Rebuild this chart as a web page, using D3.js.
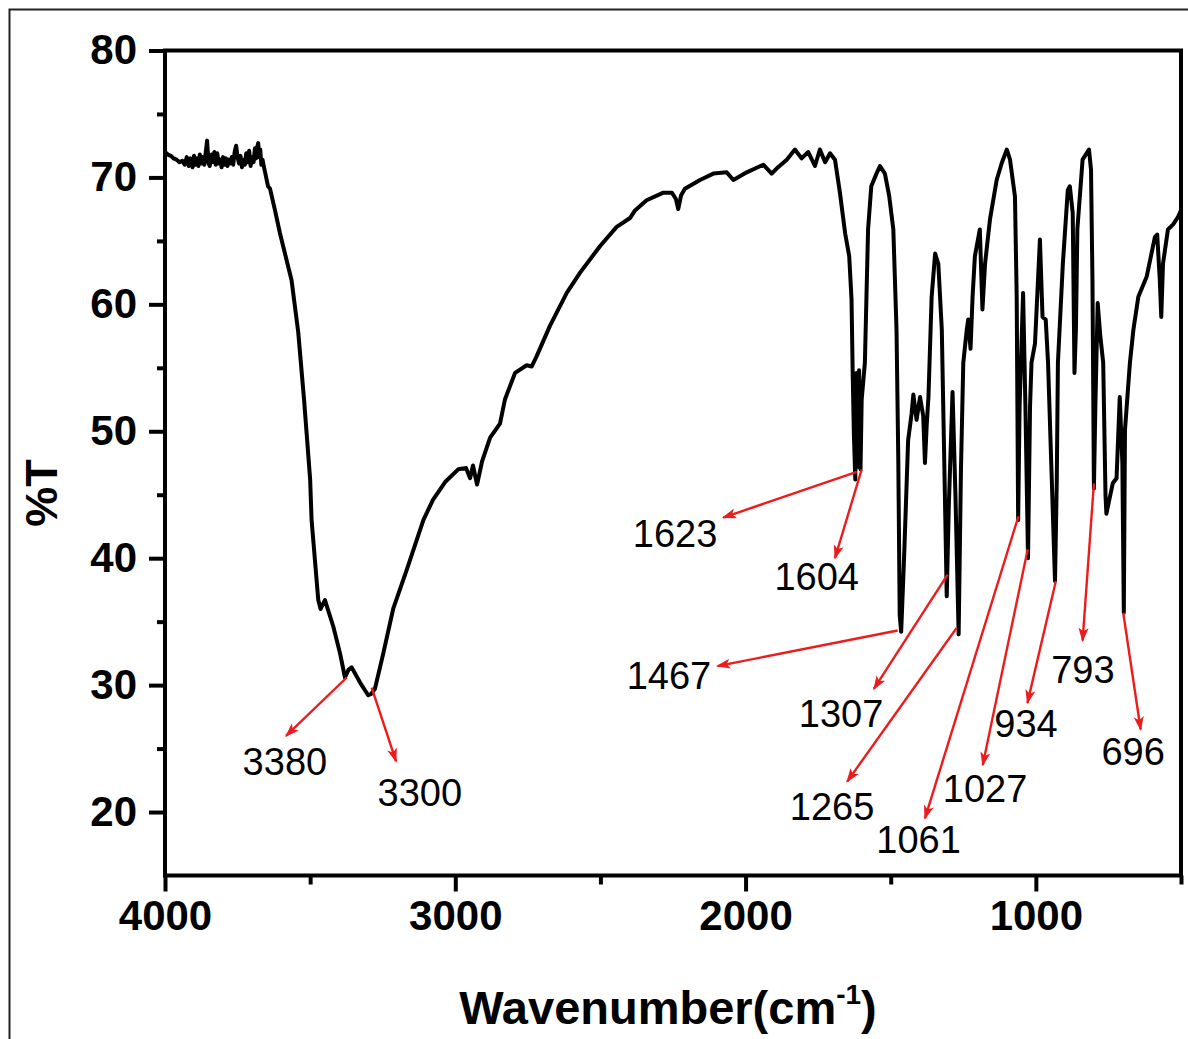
<!DOCTYPE html>
<html>
<head>
<meta charset="utf-8">
<script src="https://cdn.jsdelivr.net/npm/d3@7"></script>
<style>
  body { margin: 0; background: #fff; }
  svg { display: block; font-family: "Liberation Sans", Arial, sans-serif; }
</style>
</head>
<body>
<div id="ftirChart"></div>
<script>
// spectrum, wavenumber (cm-1) and %T
const wavenumber = [
  4000, 3990, 3980, 3970, 3960, 3950, 3940, 3932, 3925, 3918, 3912, 3905, 3900, 3895, 3890,
  3885, 3880, 3875, 3870, 3865, 3860, 3855, 3850, 3846, 3840, 3835, 3830, 3825, 3820, 3815,
  3810, 3805, 3800, 3795, 3790, 3785, 3780, 3775, 3770, 3765, 3760, 3755, 3750, 3745, 3740,
  3735, 3730, 3725, 3720, 3715, 3710, 3705, 3700, 3695, 3690, 3686, 3682, 3679, 3675, 3672,
  3668, 3664, 3660, 3656, 3645, 3638, 3621, 3604, 3564, 3541, 3521, 3500, 3495,
  3472, 3464, 3449, 3420, 3397, 3380, 3368, 3357, 3328, 3300, 3290, 3277, 3248, 3214, 3167,
  3110, 3077, 3035, 2990, 2963, 2949, 2939, 2925, 2908, 2880, 2846, 2829, 2794, 2754, 2737,
  2720, 2674, 2616, 2570, 2501, 2444, 2398, 2381, 2341, 2283, 2254, 2240, 2232, 2222, 2209,
  2157, 2111, 2065, 2042, 1996, 1939, 1910, 1893, 1858, 1830, 1807, 1784, 1761, 1744, 1726,
  1709, 1692, 1675, 1657, 1643, 1635, 1631, 1627, 1622, 1618, 1613, 1609, 1604, 1600, 1589,
  1578, 1567, 1549, 1537, 1520, 1505, 1491, 1480, 1474, 1469, 1464, 1454, 1440, 1428, 1422,
  1411, 1399, 1388, 1382, 1376, 1370, 1359, 1347, 1336, 1324, 1315, 1307, 1300, 1287, 1277,
  1266, 1258, 1250, 1238, 1233, 1225, 1218, 1210, 1193, 1184, 1175, 1158, 1135, 1118, 1100,
  1089, 1072, 1066, 1061, 1056, 1044, 1036, 1027, 1020, 1015, 1003, 986, 977, 966, 958,
  947, 934, 928, 924, 907, 890, 883, 873, 867, 862, 857, 839, 817, 810, 805,
  800, 795, 787, 778, 768, 760, 757, 748, 735, 722, 711, 702, 697, 693, 676,
  664, 647, 618, 590, 582, 573, 568, 562, 545, 527, 510, 500
];
const transmittance = [
  72.0, 71.8, 71.7, 71.5, 71.4, 71.2, 71.3, 71.0, 71.6, 70.9, 71.5, 70.8, 71.7, 71.0, 71.5,
  70.9, 71.8, 71.1, 71.6, 71.0, 71.9, 72.9, 71.1, 70.9, 71.8, 71.2, 72.0, 71.0, 71.9, 71.1,
  71.4, 70.8, 71.6, 71.0, 71.5, 70.9, 71.4, 71.1, 71.6, 71.0, 72.0, 72.5, 71.6, 71.1, 71.7,
  70.8, 71.4, 71.0, 71.9, 71.2, 72.1, 70.9, 71.6, 71.2, 72.3, 71.5, 72.4, 72.7, 71.6, 72.2,
  71.0, 71.4, 70.9, 70.5, 69.3, 69.1, 67.4, 65.6, 61.9, 57.8, 52.5, 46.2, 43.0,
  36.7, 36.0, 36.7, 34.6, 32.5, 30.6, 31.2, 31.4, 30.2, 29.2, 29.3, 29.7, 32.5, 36.0, 39.1,
  43.0, 44.6, 46.0, 47.0, 47.1, 46.3, 47.3, 45.8, 47.6, 49.5, 50.6, 52.5, 54.6, 55.2, 55.1,
  55.9, 58.3, 60.9, 62.5, 64.6, 66.1, 66.8, 67.4, 68.2, 68.8, 68.8, 68.3, 67.5, 68.6, 69.1,
  69.8, 70.3, 70.4, 69.8, 70.4, 71.0, 70.3, 70.7, 71.4, 72.2, 71.5, 72.0, 70.9, 72.2, 71.2,
  71.9, 71.4, 68.8, 65.6, 63.8, 60.4, 54.6, 49.9, 46.2, 54.6, 47.2, 54.8, 47.0, 52.5, 55.4,
  65.9, 69.3, 70.3, 70.9, 70.3, 68.5, 65.9, 58.0, 48.0, 35.5, 34.2, 40.0, 49.3, 51.4, 52.9,
  50.9, 52.7, 51.2, 47.5, 50.5, 52.7, 60.6, 64.0, 63.2, 58.0, 47.0, 37.0, 44.0, 53.1, 45.0,
  34.0, 47.0, 55.4, 58.0, 58.8, 56.5, 60.6, 63.8, 65.9, 59.6, 63.2, 66.7, 69.8, 71.1, 72.2,
  71.4, 68.5, 60.6, 43.0, 52.0, 60.9, 52.0, 40.0, 52.0, 55.4, 56.9, 65.1, 59.0, 58.8, 55.4,
  47.5, 38.2, 46.0, 55.4, 63.2, 69.0, 69.3, 67.2, 54.6, 58.0, 65.9, 71.4, 72.2, 70.6, 61.9,
  45.5, 52.0, 60.1, 57.5, 55.4, 44.9, 43.5, 44.5, 45.9, 46.3, 52.7, 47.5, 35.7, 50.1, 55.4,
  58.0, 60.6, 62.2, 65.3, 65.5, 61.9, 59.0, 63.2, 65.9, 66.3, 66.9, 67.4
];

// peak labels: curve point, arrow head, text spot (all in data units)
const peakLabels = ["3380", "3300", "1623", "1604", "1467", "1307", "1265", "1061", "1027", "934", "793", "696"];
const arrowFrom = [[3374, 30.6], [3288, 29.8], [1617, 46.8], [1600, 47.0], [1476, 34.3], [1304, 38.7],
  [1273, 34.5], [1060, 43.3], [1028, 40.7], [931, 38.2], [800, 45.9], [699, 35.7]];
const arrowTo = [[3583, 26.0], [3204, 24.0], [2077, 43.2], [1692, 40.0], [2097, 31.5], [1558, 29.7],
  [1650, 22.4], [1382, 19.5], [1183, 23.7], [1029, 28.6], [839, 33.5], [639, 26.5]];
const textAt = [[3587, 22.9], [3122, 20.5], [2243, 40.9], [1755, 37.5], [2264, 29.7], [1671, 26.7],
  [1702, 19.4], [1404, 16.8], [1175, 20.8], [1034, 25.9], [838, 30.2], [665, 23.7]];

const xTicks = [4000, 3000, 2000, 1000];
const xMinor = [3500, 2500, 1500, 500];
const yTicks = [20, 30, 40, 50, 60, 70, 80];
const yMinor = [25, 35, 45, 55, 65, 75];

const W = 1188, H = 1039;
const margin = { left: 165, right: 7, top: 50.5, bottom: 163.5 };
const w = W - margin.left - margin.right;
const h = H - margin.top - margin.bottom;

const svg = d3.select("#ftirChart").append("svg")
  .attr("width", W).attr("height", H);

// outer frame of the figure
svg.append("rect")
  .attr("x", 9.5).attr("y", 9.5)
  .attr("width", W + 20).attr("height", H + 20)
  .attr("fill", "none").attr("stroke", "#222").attr("stroke-width", 2);

const g = svg.append("g").attr("transform", `translate(${margin.left},${margin.top})`);

const x = d3.scaleLinear().domain([4000, 500]).range([0, w]);
const y = d3.scaleLinear().domain([15, 80]).range([h, 0]);

// axes
const xAxis = d3.axisBottom(x).tickValues(xTicks).tickSize(16).tickPadding(9).tickFormat(d3.format("d"));
const xAxisMinor = d3.axisBottom(x).tickValues(xMinor).tickSize(9).tickFormat("");
const yAxis = d3.axisLeft(y).tickValues(yTicks).tickSize(16).tickPadding(12);
const yAxisMinor = d3.axisLeft(y).tickValues(yMinor).tickSize(8).tickFormat("");

function styleAxis(sel) {
  sel.select(".domain").remove();
  sel.selectAll("line").attr("stroke", "#000").attr("stroke-width", 4);
  sel.selectAll("text").attr("fill", "#000")
    .style("font-size", "42px").style("font-weight", "bold");
}

g.append("g").attr("transform", `translate(0,${h})`).call(xAxis).call(styleAxis);
g.append("g").attr("transform", `translate(0,${h})`).call(xAxisMinor).call(styleAxis);
g.append("g").call(yAxis).call(styleAxis);
g.append("g").call(yAxisMinor).call(styleAxis);

// plot box
g.append("rect")
  .attr("width", w).attr("height", h)
  .attr("fill", "none").attr("stroke", "#000").attr("stroke-width", 4);

// spectrum
const spectrum = wavenumber.map((d, i) => ({ wn: d, t: transmittance[i] }));
const line = d3.line().x((d) => x(d.wn)).y((d) => y(d.t));

g.append("path")
  .datum(spectrum)
  .attr("d", line)
  .attr("fill", "none")
  .attr("stroke", "#000")
  .attr("stroke-width", 4)
  .attr("stroke-linejoin", "round");

// arrows
const red = "#ec1c1c";
svg.append("defs").append("marker")
  .attr("id", "head")
  .attr("viewBox", "0 0 10 10")
  .attr("refX", 9).attr("refY", 5)
  .attr("markerWidth", 6).attr("markerHeight", 6)
  .attr("markerUnits", "strokeWidth")
  .attr("orient", "auto")
  .append("path")
  .attr("d", "M0,1.5 L10,5 L0,8.5 L2.5,5 Z")
  .attr("fill", red);

const peaks = peakLabels.map((lab, i) => ({ lab, from: arrowFrom[i], to: arrowTo[i], at: textAt[i] }));

g.selectAll(".arrow")
  .data(peaks)
  .enter()
  .append("line")
  .attr("class", "arrow")
  .attr("x1", (d) => x(d.from[0]))
  .attr("y1", (d) => y(d.from[1]))
  .attr("x2", (d) => x(d.to[0]))
  .attr("y2", (d) => y(d.to[1]))
  .attr("stroke", red)
  .attr("stroke-width", 2.4)
  .attr("marker-end", "url(#head)");

g.selectAll(".peak")
  .data(peaks)
  .enter()
  .append("text")
  .attr("class", "peak")
  .attr("x", (d) => x(d.at[0]))
  .attr("y", (d) => y(d.at[1]))
  .attr("text-anchor", "middle")
  .style("font-size", "38px")
  .attr("fill", "#000")
  .text((d) => d.lab);

// axis titles
const xTitle = svg.append("text")
  .attr("x", 668).attr("y", 1024)
  .attr("text-anchor", "middle")
  .style("font-size", "47px").style("font-weight", "bold");
xTitle.append("tspan").text("Wavenumber(cm");
xTitle.append("tspan").attr("dy", -20).style("font-size", "28px").text("-1");
xTitle.append("tspan").attr("dy", 20).text(")");

svg.append("text")
  .attr("transform", "translate(57,493) rotate(-90)")
  .attr("text-anchor", "middle")
  .style("font-size", "45px").style("font-weight", "bold")
  .text("%T");
</script>
</body>
</html>
